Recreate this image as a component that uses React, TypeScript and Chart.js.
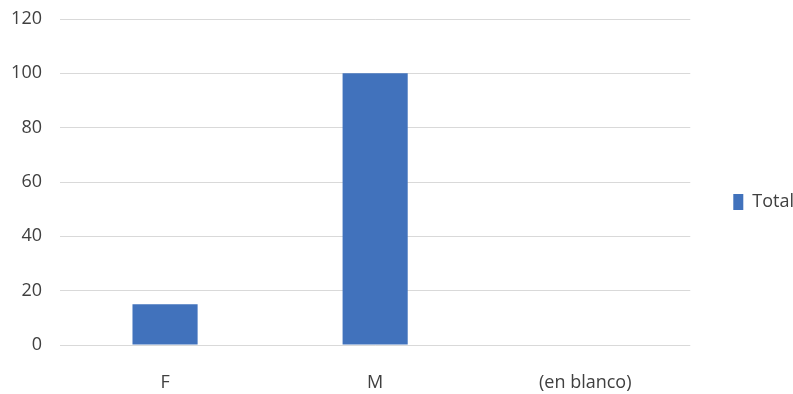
import React, { useEffect, useRef } from "react";
import { Chart, registerables } from "chart.js";

Chart.register(...registerables);

const categories = ["F", "M", "(en blanco)"];
const totalValues = [15, 100, 0];
const seriesName = "Total";

export default function App() {
  const ref = useRef<HTMLCanvasElement | null>(null);
  useEffect(() => {
    if (!ref.current) return;
    const font = { family: "'Open Sans', 'Noto Sans', sans-serif", size: 18 };
    const chart = new Chart(ref.current, {
      type: "bar",
      data: {
        labels: categories,
        datasets: [
          {
            label: seriesName,
            data: totalValues,
            backgroundColor: "#4172BC",
            borderWidth: 0,
            categoryPercentage: 1,
            barPercentage: 0.31,
          },
        ],
      },
      options: {
        animation: false,
        responsive: false,
        maintainAspectRatio: false,
        layout: { padding: { left: 0, top: 10, right: -11, bottom: 0 } },
        plugins: {
          legend: {
            position: "right",
            labels: {
              font,
              color: "#404040",
              boxWidth: 10,
              boxHeight: 16,
              padding: 43,
            },
          },
          tooltip: { enabled: false },
        },
        scales: {
          x: {
            grid: { display: false, drawTicks: false },
            border: { display: false },
            ticks: { font, color: "#404040", padding: 27 },
            afterFit: (scale: any) => {
              scale.height = 49;
            },
          },
          y: {
            min: 0,
            max: 120,
            ticks: { stepSize: 20, font, color: "#404040", padding: 18 },
            grid: { color: "#D9D9D9", lineWidth: 1, drawTicks: false },
            border: { display: false },
            afterFit: (scale: any) => {
              scale.width = 60;
              scale.paddingTop = 19;
              scale.paddingBottom = 0;
            },
          },
        },
      },
    });
    return () => chart.destroy();
  }, []);
  return (
    <div style={{ position: "absolute", left: 0, top: 0, width: 793, height: 394, background: "#fff" }}>
      <canvas ref={ref} width={793} height={394} />
    </div>
  );
}
